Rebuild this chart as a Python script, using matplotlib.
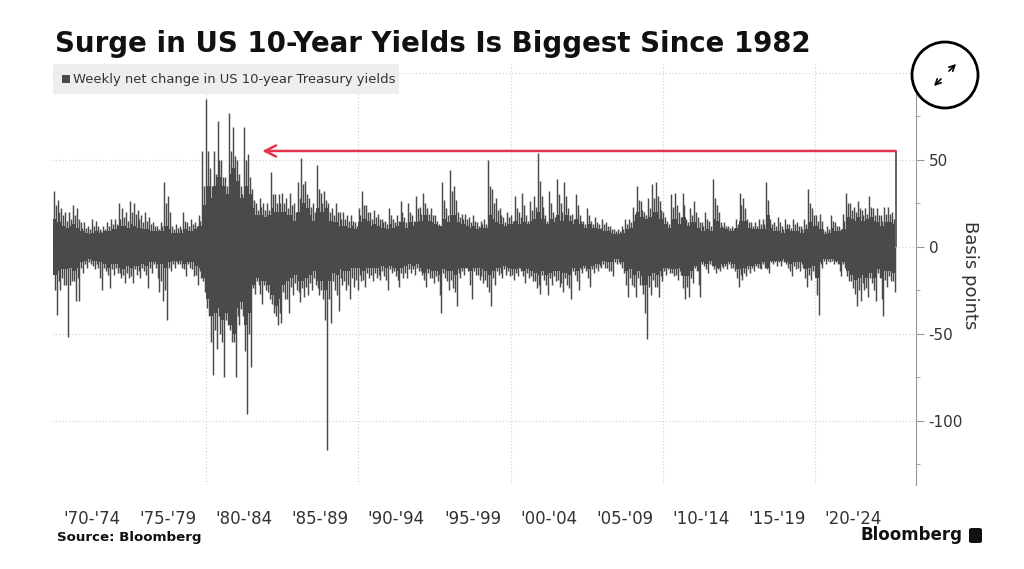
import numpy as np
import matplotlib
matplotlib.use("Agg")
import matplotlib.pyplot as plt
from matplotlib.patches import Rectangle, Ellipse, FancyBboxPatch, FancyArrowPatch
from matplotlib.ticker import FixedLocator

# ---------------- data (weekly net change in US 10y yield, bp) ----------------
# quarterly extreme weekly moves (largest rise / largest fall), 1970Q1 .. 2025Q1
hi_q = [32, 27, 22, 20,  20, 24, 22, 14,  14, 12, 16, 15,  10, 12, 14, 16,  16, 25, 22, 20,
        26, 25, 21, 18,  20, 17, 14, 12,  14, 37, 29, 12,  13, 12, 20, 14,  16, 14, 18, 55,
        85, 45, 55, 72,  50, 40, 77, 69,  50, 35, 69, 53,  33, 25, 28, 25,  25, 43, 30, 30,
        31, 28, 31, 25,  37, 51, 38, 28,  25, 47, 31, 32,  25, 22, 25, 20,  20, 18, 18, 14,
        22, 32, 24, 20,  21, 19, 16, 15,  22, 16, 18, 26,  17, 25, 18, 29,  23, 31, 22, 22,
        18, 13, 37, 22,  44, 35, 20, 19,  19, 17, 18, 14,  15, 16, 50, 33,  28, 22, 17, 20,
        18, 29, 20, 31,  18, 26, 29, 54,  29, 18, 32, 20,  39, 25, 37, 22,  19, 30, 18, 15,
        22, 15, 17, 13,  16, 14, 12, 10,  10, 12, 16, 16,  23, 35, 26, 20,  28, 36, 37, 26,
        20, 15, 30, 31,  20, 31, 16, 22,  26, 17, 14, 20,  15, 39, 24, 14,  14, 12, 12, 16,
        31, 28, 16, 14,  14, 16, 16, 37,  16, 14, 17, 12,  16, 13, 16, 14,  12, 16, 33, 22,
        18, 19, 10, 12,  18, 14, 12, 19,  31, 25, 23, 26,  21, 22, 29, 22,  22, 18, 23, 23,
        20]
lo_q = [-39, -25, -22, -52,  -20, -31, -31, -15,  -12, -10, -13, -12,  -25, -14, -24, -16,  -15, -18, -21, -18,
        -21, -16, -18, -14,  -24, -15, -12, -26,  -31, -42, -14, -12,  -10, -12, -17, -12,  -17, -22, -18, -26,
        -40, -74, -59, -50,  -75, -45, -55, -75,  -45, -40, -96, -69,  -27, -22, -33, -25,  -30, -38, -45, -44,
        -30, -38, -28, -25,  -32, -29, -28, -25,  -22, -28, -30, -117, -44, -25, -37, -22,  -25, -30, -23, -25,
        -20, -23, -18, -20,  -18, -19, -17, -25,  -15, -17, -23, -18,  -18, -15, -16, -14,  -16, -23, -18, -21,
        -20, -38, -18, -25,  -24, -34, -18, -16,  -14, -30, -16, -19,  -21, -23, -34, -22,  -16, -18, -16, -17,
        -19, -17, -14, -21,  -18, -20, -24, -27,  -19, -28, -22, -20,  -23, -26, -22, -30,  -16, -25, -15, -14,
        -23, -15, -14, -12,  -12, -14, -17, -10,  -10, -15, -29, -22,  -29, -22, -27, -53,  -28, -23, -29, -20,
        -16, -15, -17, -19,  -16, -30, -29, -21,  -14, -29, -11, -15,  -11, -15, -14, -12,  -13, -12, -14, -23,
        -19, -17, -15, -14,  -12, -13, -12, -15,  -10, -11, -11, -9,  -12, -17, -13, -14,  -12, -23, -19, -16,
        -39, -12, -10, -9,  -10, -10, -17, -12,  -20, -24, -34, -31,  -25, -29, -21, -31,  -18, -40, -23, -20,
        -26]
# second-largest weekly rise / fall per quarter
hi2_q = [24, 20, 18, 15,  16, 18, 16, 11,  11, 10, 12, 12,  9, 10, 12, 13,  13, 16, 17, 15,
         20, 19, 16, 14,  15, 13, 12, 10,  12, 25, 20, 10,  11, 10, 15, 12,  13, 12, 15, 35,
         55, 35, 42, 50,  40, 35, 55, 52,  42, 30, 50, 40,  27, 21, 23, 21,  21, 30, 25, 25,
         25, 22, 24, 20,  28, 36, 30, 23,  20, 33, 25, 27,  20, 18, 20, 16,  16, 15, 15, 12,
         18, 24, 20, 16,  17, 16, 14, 13,  18, 14, 15, 20,  14, 20, 15, 22,  19, 25, 19, 18,
         15, 12, 27, 18,  32, 27, 17, 16,  16, 14, 15, 12,  13, 13, 35, 25,  21, 18, 14, 17,
         15, 22, 17, 24,  15, 21, 23, 38,  23, 15, 25, 17,  30, 20, 29, 18,  16, 24, 15, 13,
         18, 13, 14, 11,  13, 12, 10, 9,  9, 10, 13, 14,  19, 27, 21, 18,  22, 28, 29, 21,
         17, 13, 23, 24,  17, 24, 14, 18,  20, 14, 12, 16,  12, 28, 20, 12,  12, 11, 11, 13,
         24, 22, 14, 12,  12, 13, 13, 27,  13, 12, 14, 10,  13, 11, 13, 12,  10, 13, 25, 18,
         15, 15, 9, 10,  15, 12, 10, 15,  25, 21, 20, 22,  18, 19, 23, 18,  18, 15, 19, 19,
         16]
lo2_q = [-25, -20, -18, -22,  -22, -20, -18, -12,  -10, -9, -11, -10,  -18, -12, -16, -13,  -12, -15, -16, -15,
         -17, -13, -14, -12,  -16, -12, -10, -18,  -20, -25, -12, -10,  -9, -10, -13, -10,  -13, -16, -14, -20,
         -35, -55, -48, -40,  -55, -42, -48, -55,  -40, -36, -60, -50,  -24, -20, -27, -22,  -26, -33, -40, -38,
         -26, -30, -23, -21,  -26, -24, -23, -21,  -18, -24, -25, -42,  -30, -20, -28, -18,  -20, -22, -18, -19,
         -16, -19, -15, -16,  -15, -16, -14, -19,  -13, -14, -19, -15,  -15, -13, -13, -12,  -14, -19, -15, -18,
         -17, -28, -15, -20,  -19, -26, -15, -14,  -12, -22, -14, -16,  -17, -19, -26, -18,  -14, -15, -13, -14,
         -16, -15, -12, -17,  -15, -17, -20, -22,  -16, -22, -18, -17,  -19, -21, -18, -24,  -14, -20, -13, -12,
         -18, -13, -12, -11,  -10, -12, -14, -9,  -9, -12, -22, -18,  -23, -18, -22, -38,  -23, -19, -23, -17,
         -14, -13, -15, -16,  -14, -24, -23, -18,  -12, -22, -10, -13,  -10, -13, -13, -11,  -11, -10, -12, -18,
         -16, -15, -13, -12,  -11, -12, -10, -13,  -9, -9, -9, -8,  -10, -14, -11, -12,  -10, -18, -16, -14,
         -28, -10, -8, -8,  -8, -9, -14, -10,  -17, -20, -27, -25,  -21, -24, -18, -25,  -15, -30, -19, -17,
         -20]
# typical (dense) range of weekly moves per quarter
core_up = [16, 14, 12, 11,  12, 13, 11, 9,  8, 7, 8, 9,  8, 9, 9, 10,  10, 12, 12, 11,
           13, 12, 11, 10,  10, 9, 9, 9,  9, 12, 10, 8,  8, 8, 10, 9,  9, 10, 12, 24,
           35, 28, 35, 40,  35, 30, 42, 45,  38, 28, 35, 30,  22, 18, 18, 17,  18, 22, 20, 20,
           20, 18, 18, 15,  20, 25, 22, 18,  15, 22, 20, 22,  15, 14, 14, 12,  12, 11, 12, 10,
           14, 16, 15, 12,  13, 12, 11, 10,  13, 11, 12, 14,  11, 14, 12, 14,  15, 18, 15, 14,
           13, 12, 16, 14,  18, 18, 14, 13,  12, 11, 12, 10,  11, 11, 18, 16,  14, 13, 12, 13,
           13, 15, 13, 14,  13, 15, 16, 20,  16, 13, 16, 14,  18, 15, 18, 15,  13, 16, 13, 11,
           13, 11, 11, 10,  9, 9, 8, 7,  7, 8, 10, 11,  15, 20, 17, 16,  17, 20, 20, 16,
           13, 11, 16, 16,  13, 17, 12, 14,  14, 11, 9, 10,  9, 16, 15, 11,  10, 9, 9, 11,
           15, 15, 11, 10,  10, 10, 10, 18,  11, 9, 9, 8,  10, 9, 9, 9,  8, 10, 14, 12,
           12, 10, 7, 8,  11, 9, 9, 10,  17, 16, 15, 17,  15, 16, 17, 15,  14, 12, 14, 14,
           13]
core_dn = [-16, -14, -13, -13,  -12, -14, -12, -9,  -8, -7, -8, -8,  -9, -10, -12, -10,  -10, -12, -13, -11,
           -12, -11, -11, -10,  -11, -9, -9, -10,  -10, -12, -9, -8,  -8, -8, -10, -9,  -9, -11, -12, -18,
           -30, -40, -38, -35,  -42, -38, -45, -50,  -35, -32, -45, -38,  -22, -18, -20, -20,  -22, -28, -34, -30,
           -22, -20, -18, -16,  -20, -20, -18, -16,  -14, -20, -20, -25,  -20, -15, -16, -13,  -14, -14, -12, -12,
           -12, -14, -12, -12,  -12, -12, -11, -12,  -11, -12, -14, -12,  -11, -10, -11, -10,  -12, -15, -13, -14,
           -14, -16, -13, -14,  -14, -16, -13, -12,  -12, -14, -12, -12,  -13, -14, -16, -14,  -12, -12, -11, -12,
           -13, -13, -12, -14,  -13, -14, -15, -16,  -14, -16, -15, -14,  -14, -15, -15, -16,  -12, -14, -12, -11,
           -13, -11, -10, -10,  -8, -9, -9, -7,  -7, -9, -14, -13,  -16, -14, -17, -22,  -17, -15, -16, -14,
           -12, -12, -13, -13,  -12, -17, -17, -14,  -11, -14, -9, -10,  -8, -11, -12, -10,  -10, -9, -10, -13,
           -13, -12, -11, -11,  -10, -10, -9, -12,  -8, -8, -8, -7,  -9, -10, -9, -9,  -9, -13, -12, -11,
           -18, -9, -7, -7,  -7, -8, -10, -9,  -14, -16, -19, -18,  -16, -18, -15, -18,  -13, -18, -14, -14,
           -15]
latest_date = 2025.27
latest_value = 55
xlabels = ["'70-'74", "'75-'79", "'80-'84", "'85-'89", "'90-'94", "'95-'99",
           "'00-'04", "'05-'09", "'10-'14", "'15-'19", "'20-'24"]
yticks = [-100, -50, 0, 50, 100]

# ---------------- style ----------------
plt.rcParams['font.family'] = ['DejaVu Sans']
plt.rcParams['axes.unicode_minus'] = False

W, H = 1024, 569
fig = plt.figure(figsize=(W / 100, H / 100), dpi=100)
def fx(x): return x / W
def fy(y): return 1 - y / H

ax = fig.add_axes([fx(52), fy(485), fx(916) - fx(52), fy(64) - fy(485)])
ax.set_xlim(1969.91, 2026.6)
ax.set_ylim(-137, 105)

bar_c = '#4a4a4a'
q0 = 1970 + 0.25 * np.arange(len(hi_q))
cu = np.array(core_up)
cd = np.array(core_dn)
ax.bar(q0, cu - cd, bottom=cd, width=0.25, align='edge', color=bar_c, linewidth=0, zorder=3)
lw = 1.05
ax.vlines(q0 + 0.03, 0, hi_q, color=bar_c, linewidth=lw, zorder=3)
ax.vlines(q0 + 0.09, 0, lo2_q, color=bar_c, linewidth=lw, zorder=3)
ax.vlines(q0 + 0.15, 0, hi2_q, color=bar_c, linewidth=lw, zorder=3)
ax.vlines(q0 + 0.21, 0, lo_q, color=bar_c, linewidth=lw, zorder=3)
ax.vlines([latest_date], 0, [latest_value], color=bar_c, linewidth=1.2, zorder=3)

red = '#e3344c'
ax.annotate('', xy=(1983.7, latest_value), xytext=(latest_date, latest_value),
            arrowprops=dict(arrowstyle='->', color=red, lw=1.8, mutation_scale=20,
                            shrinkA=0, shrinkB=0), zorder=4)

# axes styling
for s in ['left', 'top', 'bottom']:
    ax.spines[s].set_visible(False)
ax.spines['right'].set_color('#999999')
ax.yaxis.tick_right()
ax.yaxis.set_major_locator(FixedLocator(yticks))
ax.yaxis.set_minor_locator(FixedLocator([-125, -75, -25, 25, 75]))
ax.tick_params(axis='y', which='major', length=6, color='#999999', labelsize=11,
               labelcolor='#333333', pad=3)
ax.tick_params(axis='y', which='minor', length=3, color='#999999')
ax.xaxis.set_major_locator(FixedLocator([1980, 1990, 2000, 2010, 2020]))
ax.xaxis.set_minor_locator(FixedLocator([1972.5 + 5 * i for i in range(len(xlabels))]))
ax.set_xticklabels([], minor=False)
ax.set_xticklabels(xlabels, minor=True)
ax.tick_params(axis='x', which='both', length=0)
ax.tick_params(axis='x', which='minor', labelsize=12, labelcolor='#333333', pad=18)
ax.grid(True, which='major', axis='both', color='#cfcfcf', linestyle=(0, (1, 2)), linewidth=0.8, zorder=0)
ax.set_axisbelow(True)
ax.set_facecolor('none')

# y label
fig.text(fx(970), fy(275), 'Basis points', rotation=-90, ha='center', va='center',
         fontsize=13, color='#333333')

# title
title = fig.text(fx(55), fy(44), 'Surge in US 10-Year Yields Is Biggest Since 1982',
                 fontsize=20, fontweight='bold', ha='left', va='center', color='#111111')
r = fig.canvas.get_renderer()
w = title.get_window_extent(r).width
title.set_fontsize(20 * 755 / w)

# legend box
fig.patches.append(Rectangle((fx(53), fy(94)), fx(399) - fx(53), fy(64) - fy(94),
                             transform=fig.transFigure, facecolor='#ebebeb', alpha=0.85,
                             edgecolor='none', zorder=5))
fig.patches.append(Rectangle((fx(62), fy(83)), fx(70) - fx(62), fy(75) - fy(83),
                             transform=fig.transFigure, facecolor=bar_c, edgecolor='none', zorder=6))
lg = fig.text(fx(73), fy(79), 'Weekly net change in US 10-year Treasury yields', fontsize=10,
              ha='left', va='center', color='#333333', zorder=7)
w = lg.get_window_extent(r).width
lg.set_fontsize(10 * 319 / w)

# expand icon
fig.patches.append(Ellipse((fx(945), fy(75)), 66 / W, 66 / H, transform=fig.transFigure,
                           facecolor='white', edgecolor='black', linewidth=2, zorder=8))
for (x0, y0, x1, y1) in [(947, 73, 958, 62), (943, 77, 932, 88)]:
    fig.add_artist(FancyArrowPatch((fx(x0), fy(y0)), (fx(x1), fy(y1)),
                   transform=fig.transFigure, arrowstyle='->', mutation_scale=10,
                   color='black', lw=1.2, zorder=9))

# footer
fig.text(fx(57), fy(537), 'Source: Bloomberg', fontsize=9.6, fontweight='bold',
         ha='left', va='center', color='#111111')
fig.text(fx(963), fy(535), 'Bloomberg', fontsize=12, fontweight='bold',
         ha='right', va='center', color='#111111')
fig.patches.append(FancyBboxPatch((fx(969), fy(543)), fx(982) - fx(969), fy(528) - fy(543),
                                  boxstyle='round,pad=0.0,rounding_size=0.003',
                                  transform=fig.transFigure, facecolor='#111111',
                                  edgecolor='none', zorder=6))

fig.savefig('out.png', dpi=100)
